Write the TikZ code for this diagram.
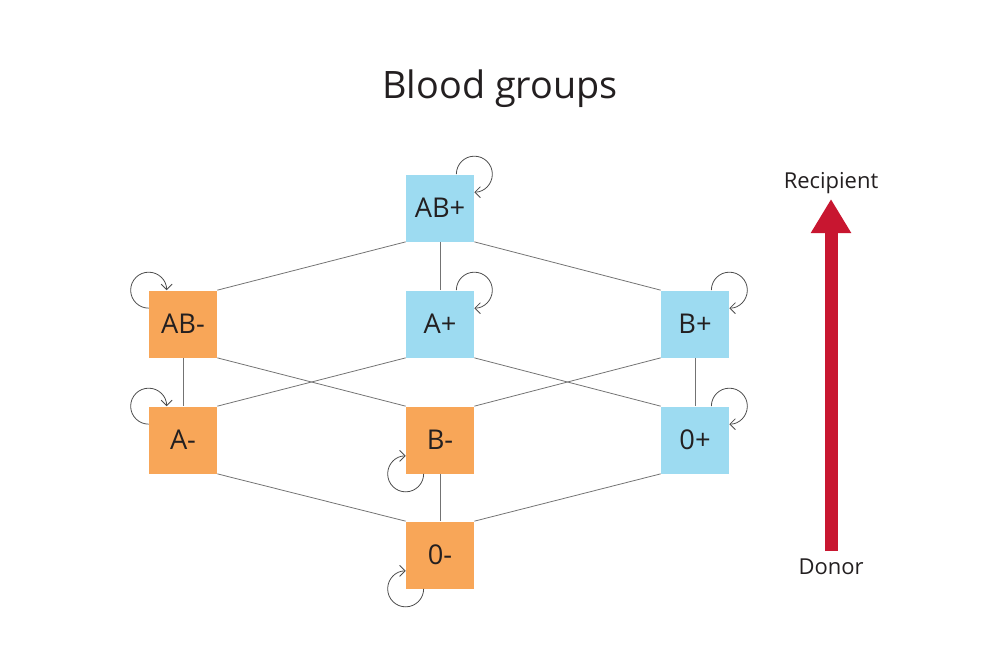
\documentclass[tikz,border=0pt]{standalone}
\usepackage{fontspec}
\setmainfont{Open Sans}
\usetikzlibrary{arrows.meta}

\definecolor{rhpos}{RGB}{157,219,241}
\definecolor{rhneg}{RGB}{248,166,88}
\definecolor{arrowred}{RGB}{200,22,48}
\definecolor{inkgray}{RGB}{35,31,32}

\begin{document}
\begin{tikzpicture}[x=0.02cm,y=-0.02cm,
    grp/.style={minimum width=1.36cm,minimum height=1.34cm,inner sep=0pt,
      text=inkgray,font=\fontsize{15.5}{17}\selectfont},
    posgrp/.style={grp,fill=rhpos},
    neggrp/.style={grp,fill=rhneg},
    link/.style={draw=black!55,line width=0.45pt},
    selfloop/.style={draw=black!70,line width=0.45pt,-{Straight Barb[length=1.1mm,width=2.2mm]}},
    side/.style={text=inkgray,font=\fontsize{12.5}{14}\selectfont,anchor=base}]
  \useasboundingbox (0,0) rectangle (1000,667);
  \node [text=inkgray,font=\fontsize{21.5}{23}\selectfont,anchor=base] (title) at (500,98) {Blood groups};

  % blood group lattice
  \node [posgrp] (ABp) at (440,208) {AB+};
  \node [neggrp] (ABm) at (183,324) {AB-};
  \node [posgrp] (Ap)  at (440,324) {A+};
  \node [posgrp] (Bp)  at (695,324) {B+};
  \node [neggrp] (Am)  at (183,440) {A-};
  \node [neggrp] (Bm)  at (440,440) {B-};
  \node [posgrp] (Op)  at (695,440) {0+};
  \node [neggrp] (Om)  at (440,555) {0-};

  \draw [link] (ABp.south west) -- (ABm.north east);
  \draw [link] (ABp.south) -- (Ap.north);
  \draw [link] (ABp.south east) -- (Bp.north west);
  \draw [link] (ABm.south) -- (Am.north);
  \draw [link] (ABm.south east) -- (Bm.north west);
  \draw [link] (Ap.south west) -- (Am.north east);
  \draw [link] (Ap.south east) -- (Op.north west);
  \draw [link] (Bp.south west) -- (Bm.north east);
  \draw [link] (Bp.south) -- (Op.north);
  \draw [link] (Am.south east) -- (Om.north west);
  \draw [link] (Bm.south) -- (Om.north);
  \draw [link] (Op.south west) -- (Om.north east);

  % self loops
  \draw [selfloop] ([xshift=-0.36cm]ABp.north east) arc[start angle=180,end angle=-90,radius=0.36cm];
  \draw [selfloop] ([xshift=-0.36cm]Ap.north east) arc[start angle=180,end angle=-90,radius=0.36cm];
  \draw [selfloop] ([xshift=-0.36cm]Bp.north east) arc[start angle=180,end angle=-90,radius=0.36cm];
  \draw [selfloop] ([xshift=-0.36cm]Op.north east) arc[start angle=180,end angle=-90,radius=0.36cm];
  \draw [selfloop] ([yshift=-0.36cm]ABm.north west) arc[start angle=-90,end angle=-360,radius=0.36cm];
  \draw [selfloop] ([yshift=-0.36cm]Am.north west) arc[start angle=-90,end angle=-360,radius=0.36cm];
  \draw [selfloop] ([xshift=0.36cm]Bm.south west) arc[start angle=0,end angle=-270,radius=0.36cm];
  \draw [selfloop] ([xshift=0.36cm]Om.south west) arc[start angle=0,end angle=-270,radius=0.36cm];

  % donor -> recipient
  \node [side] (recipient) at (831,188) {Recipient};
  \node [side] (donor) at (831,574) {Donor};
  \coordinate (base) at (831,551);
  \coordinate (tip) at (831,199);
  \draw [arrowred,line width=0.26cm,-{Triangle[width=0.76cm,length=0.68cm]}] (base) -- (tip);
\end{tikzpicture}
\end{document}
